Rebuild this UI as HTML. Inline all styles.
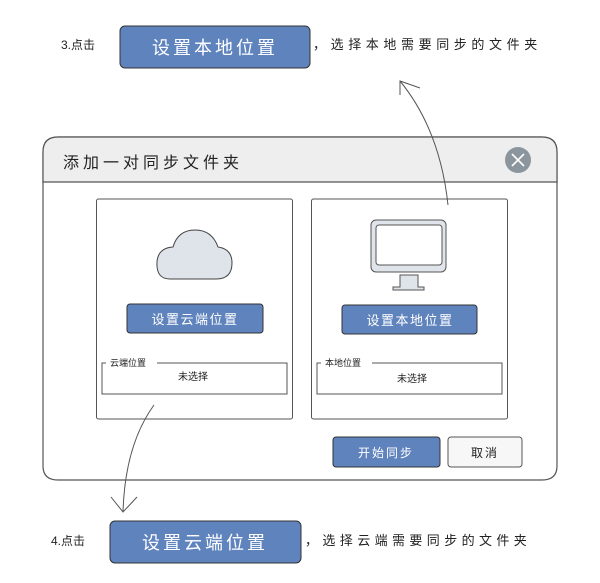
<!DOCTYPE html>
<html><head><meta charset="utf-8"><style>
html,body{margin:0;padding:0;background:#fff}
text{font-family:"Liberation Sans","Noto Sans CJK SC",sans-serif}
</style></head><body>
<svg width="600" height="578" viewBox="0 0 600 578" xmlns="http://www.w3.org/2000/svg">
<rect width="600" height="578" fill="#fff"/>
<text x="61" y="49" font-size="12" fill="#222">3.点击</text>
<rect x="120" y="26" width="190" height="42" rx="5" fill="#5f83bd" stroke="#333" stroke-width="1"/>
<text x="215" y="54" font-size="18" fill="#fff" text-anchor="middle" letter-spacing="3">设置本地位置</text>
<text x="313" y="49" font-size="13" fill="#222" letter-spacing="4.6">，选择本地需要同步的文件夹</text>
<path d="M58,137 H542 Q557,137 557,152 V466 Q557,480 542,480 H58 Q43,480 43,466 V152 Q43,137 58,137 Z" fill="#fff" stroke="#555" stroke-width="1.2"/>
<path d="M58,137 H542 Q557,137 557,152 V182 H43 V152 Q43,137 58,137 Z" fill="#eeeeee" stroke="#555" stroke-width="1.2"/>
<text x="63" y="168" font-size="16" fill="#222" letter-spacing="4">添加一对同步文件夹</text>
<circle cx="518" cy="160" r="13" fill="#8a959e"/>
<path d="M512,154 L524,166 M524,154 L512,166" stroke="#fff" stroke-width="1.6"/>
<rect x="96.5" y="199" width="196" height="220" rx="2" fill="#fff" stroke="#555"/>
<rect x="311.5" y="199" width="196" height="220" rx="2" fill="#fff" stroke="#555"/>
<path d="M170,279 Q156,279 157,262 Q158,248 173,247 Q178,230 195,230 Q212,230 218,247 Q232,249 232,263 Q232,279 216,279 Z" fill="#dfe3ea" stroke="#444" stroke-width="1"/>
<rect x="371" y="220" width="75" height="52" rx="5" fill="#dfe3ea" stroke="#555"/>
<rect x="376" y="225" width="66" height="40" rx="3" fill="#fff" stroke="#555"/>
<path d="M400,275 H418 V287 H424 V290 H393 V287 H400 Z" fill="#dfe3ea" stroke="#555"/>
<rect x="127" y="304" width="136" height="29" rx="3" fill="#5f83bd" stroke="#333"/>
<text x="195" y="324" font-size="13" fill="#fff" text-anchor="middle" letter-spacing="1.5">设置云端位置</text>
<rect x="342" y="305" width="135" height="29" rx="3" fill="#5f83bd" stroke="#333"/>
<text x="410" y="325" font-size="13" fill="#fff" text-anchor="middle" letter-spacing="1.5">设置本地位置</text>
<path d="M106,363 H102 V394 H287 V363 H157" fill="none" stroke="#555"/>
<text x="110" y="366" font-size="9" fill="#222">云端位置</text>
<text x="193" y="380" font-size="10" fill="#222" text-anchor="middle">未选择</text>
<path d="M321,363 H317 V394 H502 V363 H372" fill="none" stroke="#555"/>
<text x="325" y="366" font-size="9" fill="#222">本地位置</text>
<text x="412" y="382" font-size="10" fill="#222" text-anchor="middle">未选择</text>
<rect x="333" y="437" width="107" height="30" rx="3" fill="#5f83bd" stroke="#333"/>
<text x="386" y="457" font-size="12" fill="#fff" text-anchor="middle" letter-spacing="2">开始同步</text>
<rect x="448" y="437" width="74" height="30" rx="3" fill="#f7f7f7" stroke="#555"/>
<text x="485" y="457" font-size="12" fill="#222" text-anchor="middle" letter-spacing="2">取消</text>
<path d="M448,205 Q440,130 400,81" fill="none" stroke="#555" stroke-width="1"/>
<path d="M400,95 L400,81 L420,88" fill="none" stroke="#555" stroke-width="1"/>
<path d="M154,405 Q125,445 123,512" fill="none" stroke="#555" stroke-width="1"/>
<path d="M111,497 L123,512 L137,497" fill="none" stroke="#555" stroke-width="1"/>
<text x="51" y="545" font-size="12" fill="#222">4.点击</text>
<rect x="110" y="521" width="191" height="42" rx="5" fill="#5f83bd" stroke="#333"/>
<text x="205" y="549" font-size="18" fill="#fff" text-anchor="middle" letter-spacing="3">设置云端位置</text>
<text x="305" y="545" font-size="13" fill="#222" letter-spacing="4.4">，选择云端需要同步的文件夹</text>
</svg>
</body></html>
